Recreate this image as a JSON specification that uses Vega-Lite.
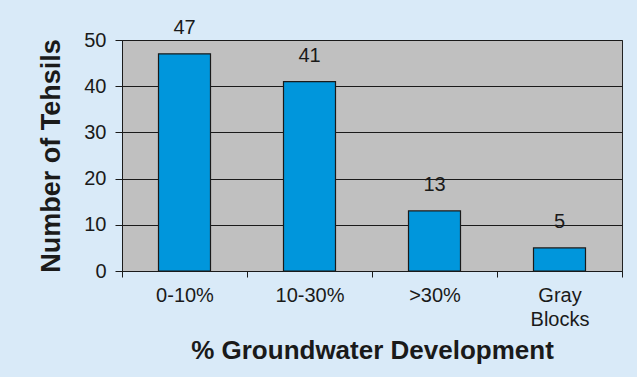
{
  "$schema": "https://vega.github.io/schema/vega-lite/v6.json",
  "autosize": "none",
  "width": 500,
  "height": 231,
  "padding": {"left": 122, "top": 40, "right": 15, "bottom": 106},
  "background": "#d9eaf8",
  "config": {
    "font": "Liberation Sans",
    "view": {"fill": "#c0c0c0", "stroke": "#222222", "strokeWidth": 1}
  },
  "data": {
    "values": [
      {"category": "0-10%", "count": 47},
      {"category": "10-30%", "count": 41},
      {"category": ">30%", "count": 13},
      {"category": "Gray Blocks", "count": 5}
    ]
  },
  "layer": [
    {
      "mark": {"type": "bar", "size": 52, "color": "#0096dc", "stroke": "#1a1a1a", "strokeWidth": 1.2},
      "encoding": {
        "x": {
          "field": "category", "type": "nominal", "sort": null,
          "scale": {"paddingInner": 0, "paddingOuter": 0},
          "axis": {
            "title": "% Groundwater Development",
            "titleFont": "Liberation Sans", "titleFontSize": 26, "titleFontWeight": "bold", "titleColor": "#1a1a1a",
            "titlePadding": 8,
            "labelAngle": 0, "labelFontSize": 20, "labelColor": "#1a1a1a", "labelPadding": 8,
            "labelExpr": "datum.value == 'Gray Blocks' ? ['Gray', 'Blocks'] : datum.value",
            "labelLineHeight": 24,
            "tickBand": "extent", "tickSize": 6, "tickColor": "#1a1a1a",
            "domainColor": "#1a1a1a", "grid": false
          }
        },
        "y": {
          "field": "count", "type": "quantitative",
          "scale": {"domain": [0, 50]},
          "axis": {
            "title": "Number of Tehsils",
            "titleFontSize": 27, "titleFontWeight": "bold", "titleColor": "#1a1a1a", "titlePadding": 18,
            "values": [0, 10, 20, 30, 40, 50],
            "labelFontSize": 20, "labelColor": "#1a1a1a", "labelPadding": 9,
            "tickSize": 7, "tickColor": "#1a1a1a",
            "grid": true, "gridColor": "#1a1a1a", "gridOpacity": 1, "gridWidth": 1,
            "domainColor": "#1a1a1a"
          }
        }
      }
    },
    {
      "mark": {"type": "text", "dy": -26, "fontSize": 20, "color": "#1a1a1a"},
      "encoding": {
        "x": {"field": "category", "type": "nominal", "sort": null},
        "y": {"field": "count", "type": "quantitative"},
        "text": {"field": "count", "type": "quantitative"}
      }
    }
  ]
}
